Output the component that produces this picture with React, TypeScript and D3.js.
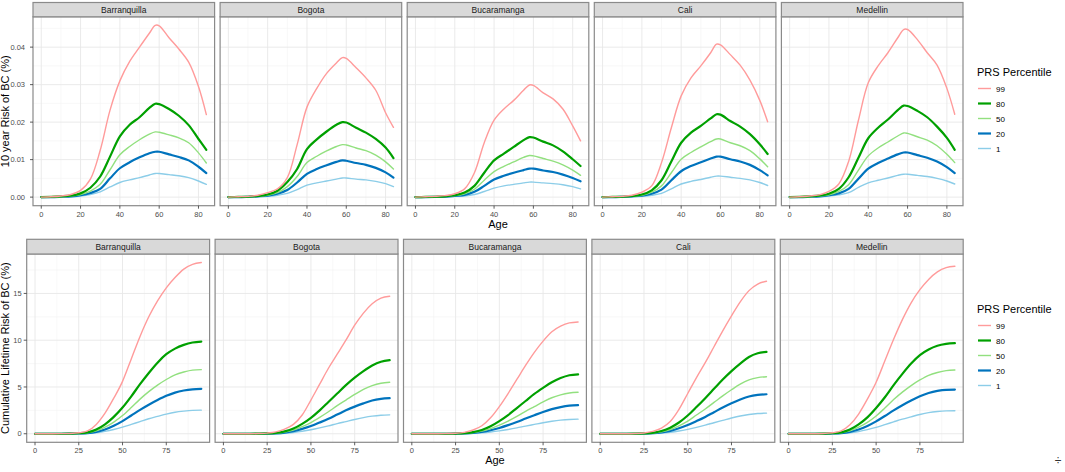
import React from "react";
import * as d3 from "d3";

const cities = ["Barranquilla", "Bogota", "Bucaramanga", "Cali", "Medellin"];
const percentiles = ["99", "80", "50", "20", "1"];

// ages for the 10-year risk curves (top row)
const ages10 = [0, 5, 10, 15, 20, 25, 30, 35, 40, 45, 50, 55, 58, 60, 65, 70, 75, 80, 84];
// ages for the cumulative lifetime risk curves (bottom row)
const agesLife = [0, 5, 10, 15, 20, 25, 30, 35, 40, 45, 50, 55, 60, 65, 70, 75, 80, 85, 90, 95];

const barranquilla10 = {
  "99": [0, 0.0001, 0.0003, 0.0007, 0.0018, 0.0048, 0.0125, 0.0232, 0.031, 0.0362, 0.04, 0.0437, 0.0458, 0.0457, 0.0425, 0.0395, 0.036, 0.0295, 0.022],
  "80": [0, 0.00005, 0.0002, 0.0004, 0.001, 0.0025, 0.0055, 0.0108, 0.0162, 0.0193, 0.0213, 0.0238, 0.0249, 0.0248, 0.0235, 0.0217, 0.0192, 0.0155, 0.0126],
  "50": [0, 0.00003, 0.0001, 0.0003, 0.0007, 0.0016, 0.0034, 0.0073, 0.0113, 0.0135, 0.0153, 0.0168, 0.0174, 0.0173, 0.0166, 0.0158, 0.0145, 0.0118, 0.0091],
  "20": [0, 0.00002, 0.0001, 0.0002, 0.0005, 0.0011, 0.0022, 0.005, 0.0077, 0.0093, 0.0106, 0.0117, 0.0121, 0.0121, 0.0114, 0.0107, 0.0098, 0.0081, 0.0064],
  "1": [0, 0.00001, 0.00005, 0.0001, 0.0003, 0.0007, 0.0014, 0.0027, 0.0039, 0.0046, 0.0052, 0.0059, 0.0063, 0.0063, 0.006, 0.0057, 0.0052, 0.0043, 0.0034],
};
const bogota10 = {
  "99": [0, 0.0001, 0.0002, 0.0005, 0.0012, 0.0022, 0.0052, 0.014, 0.024, 0.029, 0.033, 0.0358, 0.0372, 0.037, 0.0345, 0.0318, 0.0285, 0.0225, 0.0186],
  "80": [0, 0.00005, 0.0001, 0.0003, 0.0007, 0.0017, 0.004, 0.0075, 0.0128, 0.0154, 0.0175, 0.0193, 0.02, 0.0199, 0.0185, 0.0172, 0.0155, 0.0132, 0.0104],
  "50": [0, 0.00003, 0.0001, 0.0002, 0.0005, 0.0012, 0.0028, 0.0055, 0.0092, 0.0109, 0.0123, 0.0135, 0.014, 0.0139, 0.0131, 0.0124, 0.0112, 0.0094, 0.0075],
  "20": [0, 0.00002, 0.0001, 0.0002, 0.0004, 0.0009, 0.0019, 0.0039, 0.0062, 0.0075, 0.0085, 0.0094, 0.0098, 0.0097, 0.0091, 0.0086, 0.0078, 0.0066, 0.0052],
  "1": [0, 0.00001, 0.00004, 0.0001, 0.0002, 0.0005, 0.001, 0.002, 0.0032, 0.0038, 0.0043, 0.0048, 0.0051, 0.0051, 0.0048, 0.0046, 0.0042, 0.0036, 0.0028],
};
const bucaramanga10 = {
  "99": [0, 0.0001, 0.0002, 0.0004, 0.0009, 0.0022, 0.0065, 0.0145, 0.0205, 0.0235, 0.0258, 0.0285, 0.0299, 0.0298, 0.0278, 0.0262, 0.0235, 0.019, 0.015],
  "80": [0, 0.00004, 0.0001, 0.0002, 0.0005, 0.0012, 0.003, 0.0065, 0.0098, 0.0116, 0.0134, 0.0152, 0.016, 0.0159, 0.0148, 0.0138, 0.0122, 0.0101, 0.0083],
  "50": [0, 0.00003, 0.0001, 0.0002, 0.0004, 0.0009, 0.0021, 0.0045, 0.0068, 0.0082, 0.0094, 0.0106, 0.0111, 0.011, 0.0103, 0.0096, 0.0086, 0.0072, 0.0058],
  "20": [0, 0.00002, 0.00005, 0.0001, 0.0003, 0.0006, 0.0014, 0.003, 0.0047, 0.0057, 0.0065, 0.0072, 0.0076, 0.0076, 0.0071, 0.0067, 0.006, 0.0051, 0.0042],
  "1": [0, 0.00001, 0.00003, 0.0001, 0.0002, 0.0003, 0.0007, 0.0015, 0.0024, 0.003, 0.0034, 0.0038, 0.004, 0.004, 0.0038, 0.0036, 0.0033, 0.0028, 0.0022],
};
const cali10 = {
  "99": [0, 0.0001, 0.0002, 0.0005, 0.0013, 0.003, 0.0092, 0.0185, 0.027, 0.0318, 0.035, 0.0385, 0.0408, 0.0406, 0.038, 0.0352, 0.0312, 0.0258, 0.0201],
  "80": [0, 0.00005, 0.0001, 0.0003, 0.0007, 0.0018, 0.0045, 0.0095, 0.0145, 0.0172, 0.019, 0.021, 0.0221, 0.022, 0.0203, 0.0188, 0.0168, 0.0141, 0.0115],
  "50": [0, 0.00003, 0.0001, 0.0002, 0.0005, 0.0013, 0.003, 0.0065, 0.0101, 0.0119, 0.0134, 0.0148, 0.0155, 0.0155, 0.0145, 0.0137, 0.0124, 0.0102, 0.0081],
  "20": [0, 0.00002, 0.0001, 0.0002, 0.0004, 0.0009, 0.002, 0.0045, 0.0069, 0.0083, 0.0093, 0.0103, 0.0108, 0.0108, 0.0101, 0.0095, 0.0086, 0.0072, 0.0058],
  "1": [0, 0.00001, 0.00004, 0.0001, 0.0002, 0.0005, 0.001, 0.0022, 0.0035, 0.0042, 0.0047, 0.0053, 0.0056, 0.0056, 0.0053, 0.005, 0.0046, 0.0039, 0.0031],
};
const medellin10 = {
  "99": [0, 0.0001, 0.0003, 0.0006, 0.0015, 0.0035, 0.0095, 0.0205, 0.0305, 0.035, 0.0385, 0.0425, 0.0447, 0.0447, 0.042, 0.0385, 0.0352, 0.029, 0.0221],
  "80": [0, 0.00005, 0.0002, 0.0004, 0.0009, 0.0022, 0.0053, 0.0105, 0.0157, 0.0185, 0.0207, 0.0232, 0.0244, 0.0243, 0.023, 0.0213, 0.0188, 0.0158, 0.0126],
  "50": [0, 0.00003, 0.0001, 0.0003, 0.0006, 0.0015, 0.0033, 0.0072, 0.011, 0.0131, 0.0147, 0.0163, 0.0171, 0.017, 0.0161, 0.0152, 0.0137, 0.0114, 0.0092],
  "20": [0, 0.00002, 0.0001, 0.0002, 0.0005, 0.001, 0.0022, 0.0049, 0.0076, 0.0091, 0.0103, 0.0114, 0.0119, 0.0119, 0.0112, 0.0105, 0.0095, 0.008, 0.0064],
  "1": [0, 0.00001, 0.00005, 0.0001, 0.0003, 0.0006, 0.0012, 0.0026, 0.0038, 0.0045, 0.0051, 0.0058, 0.0061, 0.0061, 0.0058, 0.0055, 0.005, 0.0043, 0.0035],
};

const barranquillaLife = {
  "99": [0, 0, 0, 0.01, 0.03, 0.1, 0.3, 1.0, 2.2, 3.8, 5.6, 8.0, 10.4, 12.5, 14.2, 15.6, 16.7, 17.6, 18.1, 18.3],
  "80": [0, 0, 0, 0, 0.01, 0.05, 0.15, 0.45, 1.0, 1.8, 2.8, 4.0, 5.3, 6.5, 7.6, 8.5, 9.1, 9.5, 9.75, 9.85],
  "50": [0, 0, 0, 0, 0.01, 0.04, 0.1, 0.3, 0.7, 1.25, 1.95, 2.8, 3.7, 4.5, 5.2, 5.8, 6.3, 6.6, 6.8, 6.85],
  "20": [0, 0, 0, 0, 0.01, 0.03, 0.07, 0.2, 0.45, 0.85, 1.35, 1.95, 2.55, 3.1, 3.6, 4.05, 4.4, 4.62, 4.75, 4.8],
  "1": [0, 0, 0, 0, 0, 0.01, 0.04, 0.1, 0.25, 0.45, 0.7, 1.0, 1.3, 1.6, 1.85, 2.1, 2.3, 2.42, 2.5, 2.52],
};
const bogotaLife = {
  "99": [0, 0, 0, 0, 0.02, 0.07, 0.2, 0.5, 1.0, 2.0, 3.6, 5.3, 7.0, 8.5, 10.0, 11.6, 12.9, 13.9, 14.5, 14.7],
  "80": [0, 0, 0, 0, 0.01, 0.03, 0.08, 0.25, 0.55, 1.05, 1.7, 2.5, 3.4, 4.3, 5.2, 6.0, 6.7, 7.3, 7.7, 7.87],
  "50": [0, 0, 0, 0, 0, 0.02, 0.06, 0.18, 0.4, 0.75, 1.2, 1.75, 2.35, 3.0, 3.6, 4.2, 4.75, 5.15, 5.4, 5.5],
  "20": [0, 0, 0, 0, 0, 0.01, 0.04, 0.12, 0.28, 0.52, 0.82, 1.2, 1.6, 2.05, 2.5, 2.9, 3.25, 3.55, 3.72, 3.8],
  "1": [0, 0, 0, 0, 0, 0.01, 0.02, 0.06, 0.14, 0.26, 0.42, 0.62, 0.84, 1.08, 1.3, 1.52, 1.72, 1.88, 1.98, 2.02],
};
const bucaramangaLife = {
  "99": [0, 0, 0, 0, 0.02, 0.05, 0.15, 0.4, 0.85, 1.7, 2.9, 4.3, 5.8, 7.3, 8.7, 9.9, 10.9, 11.5, 11.85, 11.95],
  "80": [0, 0, 0, 0, 0, 0.02, 0.06, 0.18, 0.4, 0.8, 1.35, 2.0, 2.75, 3.5, 4.25, 4.9, 5.5, 5.95, 6.25, 6.35],
  "50": [0, 0, 0, 0, 0, 0.01, 0.04, 0.12, 0.28, 0.55, 0.92, 1.35, 1.85, 2.4, 2.9, 3.4, 3.85, 4.15, 4.35, 4.43],
  "20": [0, 0, 0, 0, 0, 0.01, 0.03, 0.08, 0.19, 0.37, 0.62, 0.92, 1.25, 1.62, 1.98, 2.33, 2.63, 2.85, 3.0, 3.05],
  "1": [0, 0, 0, 0, 0, 0, 0.01, 0.04, 0.1, 0.19, 0.31, 0.46, 0.63, 0.82, 1.0, 1.18, 1.33, 1.45, 1.53, 1.56],
};
const caliLife = {
  "99": [0, 0, 0, 0, 0.02, 0.08, 0.25, 0.6, 1.3, 2.6, 4.3, 6.0, 7.6, 9.3, 11.0, 12.6, 14.1, 15.3, 16.0, 16.3],
  "80": [0, 0, 0, 0, 0.01, 0.03, 0.1, 0.3, 0.65, 1.2, 1.95, 2.85, 3.8, 4.8, 5.8, 6.7, 7.5, 8.2, 8.6, 8.76],
  "50": [0, 0, 0, 0, 0, 0.02, 0.07, 0.2, 0.45, 0.85, 1.35, 2.0, 2.65, 3.35, 4.05, 4.7, 5.3, 5.75, 6.0, 6.1],
  "20": [0, 0, 0, 0, 0, 0.01, 0.05, 0.14, 0.31, 0.58, 0.93, 1.35, 1.8, 2.3, 2.8, 3.25, 3.65, 3.98, 4.15, 4.22],
  "1": [0, 0, 0, 0, 0, 0.01, 0.02, 0.07, 0.16, 0.29, 0.47, 0.68, 0.92, 1.18, 1.43, 1.68, 1.9, 2.06, 2.16, 2.2],
};
const medellinLife = {
  "99": [0, 0, 0, 0, 0.03, 0.1, 0.3, 0.95, 2.1, 3.7, 5.5, 7.8, 10.1, 12.2, 14.0, 15.4, 16.5, 17.3, 17.75, 17.9],
  "80": [0, 0, 0, 0, 0.01, 0.05, 0.15, 0.45, 1.0, 1.75, 2.75, 3.9, 5.2, 6.4, 7.5, 8.4, 9.0, 9.4, 9.6, 9.68],
  "50": [0, 0, 0, 0, 0.01, 0.04, 0.1, 0.3, 0.7, 1.22, 1.9, 2.75, 3.65, 4.45, 5.15, 5.75, 6.25, 6.55, 6.75, 6.81],
  "20": [0, 0, 0, 0, 0, 0.03, 0.07, 0.2, 0.45, 0.83, 1.32, 1.9, 2.5, 3.05, 3.55, 4.0, 4.35, 4.58, 4.7, 4.72],
  "1": [0, 0, 0, 0, 0, 0.01, 0.04, 0.1, 0.24, 0.44, 0.68, 0.97, 1.27, 1.56, 1.81, 2.06, 2.26, 2.38, 2.44, 2.45],
};

const tenYearData = [barranquilla10, bogota10, bucaramanga10, cali10, medellin10];
const lifetimeData = [barranquillaLife, bogotaLife, bucaramangaLife, caliLife, medellinLife];

const tenYearXTicks = [0, 20, 40, 60, 80];
const tenYearYTicks = [0, 0.01, 0.02, 0.03, 0.04];
const lifeXTicks = [0, 25, 50, 75];
const lifeYTicks = [0, 5, 10, 15];

const colors: Record<string, string> = {
  "99": "#ff9b9b",
  "80": "#00a000",
  "50": "#92e07f",
  "20": "#0073bd",
  "1": "#8ccde8",
};
const widths: Record<string, number> = { "99": 1.4, "80": 2.2, "50": 1.4, "20": 2.2, "1": 1.4 };

const FONT = "'Liberation Sans', Arial, Helvetica, sans-serif";
const W = 1065;
const H = 472;

type RowProps = {
  ages: number[];
  data: Record<string, number[]>[];
  xTicks: number[];
  yTicks: number[];
  yFormat: (v: number) => string;
  yTitle: string;
  left: number;
  step: number;
  pw: number;
  stripTop: number;
  plotTop: number;
  plotBottom: number;
  labelGap: number;
  curve: d3.CurveFactory;
};

function mids(t: number[]) {
  const d = t[1] - t[0];
  return t.map((v) => v + d / 2);
}

function FacetRow(p: RowProps) {
  const [a0, a1] = d3.extent(p.ages) as [number, number];
  const ax = (a1 - a0) * 0.05;
  const ymax = d3.max(p.data, (c) => d3.max(percentiles, (k) => d3.max(c[k]) as number)) as number;
  const y = d3
    .scaleLinear()
    .domain([-ymax * 0.05, ymax * 1.05])
    .range([p.plotBottom, p.plotTop]);
  const yMinor = mids(p.yTicks).filter((v) => v < ymax * 1.05);
  const xMinor = mids(p.xTicks).filter((v) => v < a1 + ax);

  return (
    <g>
      {cities.map((city, i) => {
        const x0 = p.left + i * p.step;
        const x = d3
          .scaleLinear()
          .domain([a0 - ax, a1 + ax])
          .range([x0, x0 + p.pw]);
        const line = d3
          .line<number>()
          .x((_, j) => x(p.ages[j]))
          .y((d) => y(d))
          .curve(p.curve);
        return (
          <g key={city}>
            <rect x={x0} y={p.plotTop} width={p.pw} height={p.plotBottom - p.plotTop} fill="#fff" />
            {xMinor.map((v) => (
              <line key={"xm" + v} x1={x(v)} x2={x(v)} y1={p.plotTop} y2={p.plotBottom} stroke="#f3f3f3" strokeWidth={0.6} />
            ))}
            {yMinor.map((v) => (
              <line key={"ym" + v} x1={x0} x2={x0 + p.pw} y1={y(v)} y2={y(v)} stroke="#f3f3f3" strokeWidth={0.6} />
            ))}
            {p.xTicks.map((v) => (
              <line key={"xg" + v} x1={x(v)} x2={x(v)} y1={p.plotTop} y2={p.plotBottom} stroke="#e8e8e8" strokeWidth={0.9} />
            ))}
            {p.yTicks.map((v) => (
              <line key={"yg" + v} x1={x0} x2={x0 + p.pw} y1={y(v)} y2={y(v)} stroke="#e8e8e8" strokeWidth={0.9} />
            ))}
            {[...percentiles].reverse().map((k) => (
              <path
                key={k}
                d={line(p.data[i][k]) || ""}
                fill="none"
                stroke={colors[k]}
                strokeWidth={widths[k]}
                strokeLinejoin="round"
                strokeLinecap="round"
              />
            ))}
            <rect
              x={x0}
              y={p.plotTop}
              width={p.pw}
              height={p.plotBottom - p.plotTop}
              fill="none"
              stroke="#8a8a8a"
              strokeWidth={1.2}
            />
            <rect
              x={x0}
              y={p.stripTop}
              width={p.pw}
              height={p.plotTop - p.stripTop}
              fill="#d9d9d9"
              stroke="#8a8a8a"
              strokeWidth={1.2}
            />
            <text
              x={x0 + p.pw / 2}
              y={(p.stripTop + p.plotTop) / 2 + 3}
              textAnchor="middle"
              fontSize={8.5}
              fill="#1a1a1a"
            >
              {city}
            </text>
            {p.xTicks.map((v) => (
              <g key={"xt" + v}>
                <line x1={x(v)} x2={x(v)} y1={p.plotBottom} y2={p.plotBottom + 3} stroke="#333" strokeWidth={0.8} />
                <text x={x(v)} y={p.plotBottom + 11} textAnchor="middle" fontSize={7.5} fill="#4d4d4d">
                  {v}
                </text>
              </g>
            ))}
            {i === 0 &&
              p.yTicks.map((v) => (
                <g key={"yt" + v}>
                  <line x1={x0 - 3} x2={x0} y1={y(v)} y2={y(v)} stroke="#333" strokeWidth={0.8} />
                  <text x={x0 - p.labelGap} y={y(v) + 2.7} textAnchor="end" fontSize={7.5} fill="#4d4d4d">
                    {p.yFormat(v)}
                  </text>
                </g>
              ))}
          </g>
        );
      })}
      <text
        transform={`translate(9,${(p.plotTop + p.plotBottom) / 2}) rotate(-90)`}
        textAnchor="middle"
        fontSize={11}
        fill="#000"
      >
        {p.yTitle}
      </text>
      <text
        x={(p.left + p.left + 4 * p.step + p.pw) / 2}
        y={p.plotBottom + 22}
        textAnchor="middle"
        fontSize={11}
        fill="#000"
      >
        Age
      </text>
    </g>
  );
}

function Legend({ x, top }: { x: number; top: number }) {
  return (
    <g>
      <text x={x} y={top} fontSize={11} fill="#000">
        PRS Percentile
      </text>
      {percentiles.map((k, i) => (
        <g key={k}>
          <line
            x1={x + 1}
            x2={x + 14}
            y1={top + 12.5 + i * 15}
            y2={top + 12.5 + i * 15}
            stroke={colors[k]}
            strokeWidth={widths[k]}
          />
          <text x={x + 19} y={top + 15.5 + i * 15} fontSize={8} fill="#000">
            {k}
          </text>
        </g>
      ))}
    </g>
  );
}

export default function App() {
  return (
    <svg
      width={W}
      height={H}
      style={{ position: "absolute", left: 0, top: 0, background: "#fff", fontFamily: FONT }}
    >
      <FacetRow
        ages={ages10}
        data={tenYearData}
        xTicks={tenYearXTicks}
        yTicks={tenYearYTicks}
        yFormat={(v) => v.toFixed(2)}
        yTitle="10 year Risk of BC (%)"
        left={33}
        step={187.1}
        pw={181.6}
        stripTop={2.5}
        plotTop={16.8}
        plotBottom={205.7}
        labelGap={8}
        curve={d3.curveCatmullRom.alpha(0.5)}
      />
      <FacetRow
        ages={agesLife}
        data={lifetimeData}
        xTicks={lifeXTicks}
        yTicks={lifeYTicks}
        yFormat={(v) => String(v)}
        yTitle="Cumulative Lifetime Risk of BC (%)"
        left={26.7}
        step={188.4}
        pw={182.9}
        stripTop={239.3}
        plotTop={254}
        plotBottom={442.3}
        labelGap={5}
        curve={d3.curveMonotoneX}
      />
      <Legend x={977} top={76} />
      <Legend x={977} top={313} />
      <text x={1058} y={465} textAnchor="middle" fontSize={12} fill="#333">
        ÷
      </text>
    </svg>
  );
}
